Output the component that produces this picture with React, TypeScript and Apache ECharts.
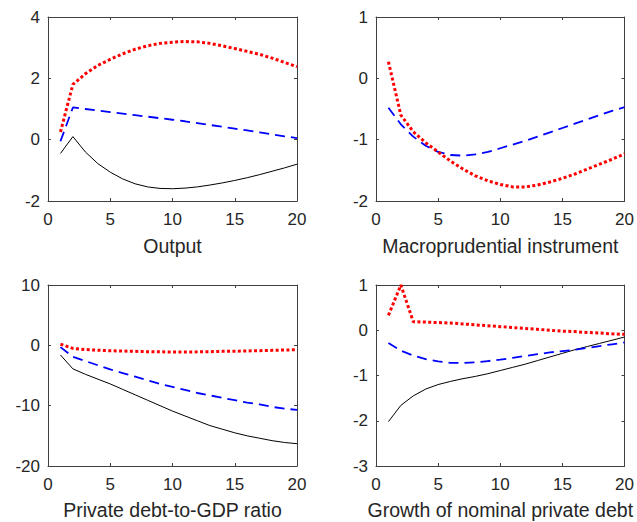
import React, { useEffect, useRef } from "react";
import * as echarts from "echarts";

const periods = [1, 2, 3, 4, 5, 6, 7, 8, 9, 10, 11, 12, 13, 14, 15, 16, 17, 18, 19, 20];

const titles = ["Output", "Macroprudential instrument", "Private debt-to-GDP ratio", "Growth of nominal private debt"];

// Output
const outBlack = [-0.45, 0.1, -0.4, -0.78, -1.06, -1.28, -1.44, -1.54, -1.59, -1.6, -1.58, -1.54, -1.48, -1.41, -1.33, -1.24, -1.14, -1.03, -0.92, -0.8];
const outBlue = [-0.05, 1.05, 1.0, 0.95, 0.9, 0.85, 0.8, 0.75, 0.7, 0.65, 0.6, 0.54, 0.48, 0.42, 0.36, 0.3, 0.24, 0.17, 0.11, 0.05];
const outRed = [0.25, 1.8, 2.15, 2.42, 2.62, 2.8, 2.95, 3.06, 3.14, 3.18, 3.2, 3.19, 3.14, 3.06, 2.97, 2.88, 2.78, 2.66, 2.52, 2.38];

// Macroprudential instrument
const macroBlue = [-0.48, -0.75, -0.95, -1.1, -1.2, -1.25, -1.26, -1.24, -1.2, -1.14, -1.08, -1.02, -0.95, -0.88, -0.81, -0.74, -0.67, -0.6, -0.53, -0.47];
const macroRed = [0.27, -0.6, -0.87, -1.05, -1.2, -1.35, -1.48, -1.59, -1.67, -1.73, -1.77, -1.77, -1.74, -1.69, -1.63, -1.56, -1.48, -1.4, -1.32, -1.23];

// Private debt-to-GDP ratio
const debtBlack = [-1.6, -3.9, -4.8, -5.6, -6.4, -7.3, -8.2, -9.1, -10.0, -10.9, -11.7, -12.5, -13.3, -13.9, -14.5, -15.0, -15.4, -15.8, -16.1, -16.3];
const debtBlue = [-0.3, -1.9, -2.6, -3.3, -4.0, -4.6, -5.2, -5.8, -6.4, -6.9, -7.4, -7.9, -8.3, -8.7, -9.1, -9.5, -9.8, -10.2, -10.5, -10.7];
const debtRed = [0.2, -0.5, -0.7, -0.8, -0.9, -0.95, -1.0, -1.05, -1.08, -1.1, -1.1, -1.08, -1.05, -1.0, -0.97, -0.93, -0.88, -0.83, -0.78, -0.73];

// Growth of nominal private debt
const growthBlack = [-2.02, -1.66, -1.45, -1.3, -1.2, -1.13, -1.07, -1.02, -0.96, -0.89, -0.82, -0.75, -0.67, -0.59, -0.51, -0.43, -0.36, -0.29, -0.22, -0.15];
const growthBlue = [-0.28, -0.45, -0.56, -0.64, -0.69, -0.72, -0.72, -0.71, -0.68, -0.65, -0.61, -0.57, -0.53, -0.49, -0.46, -0.43, -0.39, -0.35, -0.31, -0.27];
const growthRed = [0.33, 1.0, 0.19, 0.18, 0.17, 0.16, 0.14, 0.12, 0.1, 0.08, 0.06, 0.04, 0.02, 0.0, -0.02, -0.03, -0.05, -0.06, -0.08, -0.09];

const yRanges = [
  { min: -2, max: 4, interval: 2 },
  { min: -2, max: 1, interval: 1 },
  { min: -20, max: 10, interval: 10 },
  { min: -3, max: 1, interval: 1 },
];

const panels = [
  { black: outBlack, blue: outBlue, red: outRed },
  { black: null, blue: macroBlue, red: macroRed },
  { black: debtBlack, blue: debtBlue, red: debtRed },
  { black: growthBlack, blue: growthBlue, red: growthRed },
];

export default function App() {
  const ref = useRef<HTMLDivElement>(null);
  useEffect(() => {
    if (!ref.current) return;
    const chart = echarts.init(ref.current, null, { renderer: "svg" });
    const font = "'Liberation Sans', Arial, Helvetica, sans-serif";
    const txt = "#262626";
    const lineCol = "#404040";
    const grids = [
      { left: 48, top: 17, width: 249, height: 184 },
      { left: 376, top: 17, width: 250, height: 184 },
      { left: 48, top: 285, width: 249, height: 181 },
      { left: 376, top: 285, width: 250, height: 181 },
    ];
    const xAxes: any[] = [];
    const yAxes: any[] = [];
    const series: any[] = [];
    const pair = (arr: number[]) => arr.map((v, i) => [periods[i], v]);
    grids.forEach((g, i) => {
      const axisLine = { show: true, onZero: false, lineStyle: { color: lineCol, width: 1 } };
      const axisTick = { show: true, inside: true, length: 3, lineStyle: { color: lineCol } };
      xAxes.push({
        gridIndex: i, type: "value", position: "bottom", min: 0, max: 20, interval: 5,
        axisLine, axisTick, splitLine: { show: false },
        axisLabel: { color: txt, fontSize: 17, fontFamily: font, margin: 10 },
        name: titles[i], nameLocation: "middle", nameGap: i < 2 ? 35 : 34,
        nameTextStyle: { color: txt, fontSize: 19.5, fontFamily: font },
      });
      xAxes.push({
        gridIndex: i, type: "value", position: "top", min: 0, max: 20, interval: 5,
        axisLine, axisTick, splitLine: { show: false }, axisLabel: { show: false },
      });
      yAxes.push({
        gridIndex: i, type: "value", position: "left", ...yRanges[i],
        axisLine, axisTick, splitLine: { show: false },
        axisLabel: { color: txt, fontSize: 17, fontFamily: font, margin: 8 },
      });
      yAxes.push({
        gridIndex: i, type: "value", position: "right", ...yRanges[i],
        axisLine, axisTick, splitLine: { show: false }, axisLabel: { show: false },
      });
      const p = panels[i];
      const xi = i * 2;
      if (p.black) {
        series.push({
          type: "line", xAxisIndex: xi, yAxisIndex: xi, data: pair(p.black), symbol: "none",
          lineStyle: { color: "#000000", width: 1 }, z: 2,
        });
      }
      series.push({
        type: "line", xAxisIndex: xi, yAxisIndex: xi, data: pair(p.blue), symbol: "none",
        lineStyle: { color: "#0000ff", width: 1.8, type: [10, 6] }, z: 3,
      });
      series.push({
        type: "line", xAxisIndex: xi, yAxisIndex: xi, data: pair(p.red), symbol: "none",
        lineStyle: { color: "#ff0000", width: 3, type: [3, 2.4] }, z: 4,
      });
    });
    chart.setOption({
      animation: false,
      backgroundColor: "#ffffff",
      grid: grids,
      xAxis: xAxes,
      yAxis: yAxes,
      series,
    });
    return () => chart.dispose();
  }, []);
  return (
    <div
      ref={ref}
      style={{ position: "fixed", left: 0, top: 0, width: 637, height: 522 }}
    />
  );
}
